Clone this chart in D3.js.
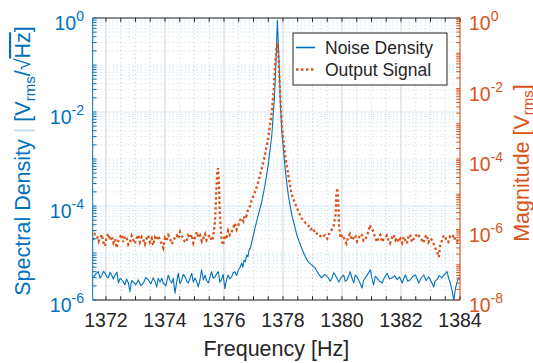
<!DOCTYPE html>
<html><head><meta charset="utf-8">
<script src="https://cdn.jsdelivr.net/npm/d3@7"></script>
<style>
body{margin:0;background:#fff}
svg{display:block}
text{font-family:"Liberation Sans",Arial,Helvetica,sans-serif}
</style>
</head><body>
<svg id="chart" width="533" height="363"></svg>
<script>
// ---------- data: [frequency Hz, value] ----------
const noiseDensity = [
[1371.57,2.95e-6],[1371.65,3.6e-6],[1371.74,4.0e-6],[1371.80,2.9e-6],[1371.86,3.4e-6],[1371.92,4.1e-6],
[1371.97,3.7e-6],[1372.03,3.1e-6],[1372.08,2.95e-6],[1372.14,3.9e-6],[1372.19,3.4e-6],[1372.25,2.8e-6],
[1372.31,3.4e-6],[1372.37,3.9e-6],[1372.42,2.3e-6],[1372.48,2.9e-6],[1372.53,2.7e-6],[1372.59,2.4e-6],
[1372.64,2.1e-6],[1372.70,2.8e-6],[1372.76,2.3e-6],[1372.81,1.5e-6],[1372.87,2.6e-6],[1372.93,2.4e-6],
[1373.01,2.1e-6],[1373.10,2.7e-6],[1373.18,2.0e-6],[1373.27,2.3e-6],[1373.35,3.0e-6],[1373.43,2.7e-6],
[1373.52,2.2e-6],[1373.60,2.95e-6],[1373.66,2.5e-6],[1373.72,1.9e-6],[1373.77,2.9e-6],[1373.83,2.4e-6],
[1373.89,2.9e-6],[1373.94,2.3e-6],[1374.03,2.0e-6],[1374.11,3.4e-6],[1374.17,2.6e-6],[1374.23,2.3e-6],
[1374.28,2.9e-6],[1374.34,1.4e-6],[1374.40,2.5e-6],[1374.45,3.7e-6],[1374.51,2.2e-6],[1374.57,2.7e-6],
[1374.62,3.5e-6],[1374.68,3.1e-6],[1374.74,2.5e-6],[1374.79,2.3e-6],[1374.85,2.9e-6],[1374.91,3.7e-6],
[1374.96,2.4e-6],[1375.02,2.95e-6],[1375.08,2.4e-6],[1375.13,1.9e-6],[1375.19,2.8e-6],[1375.24,4.4e-6],
[1375.30,2.7e-6],[1375.36,3.4e-6],[1375.41,2.6e-6],[1375.47,2.3e-6],[1375.52,3.0e-6],[1375.58,4.0e-6],
[1375.64,2.9e-6],[1375.70,3.1e-6],[1375.75,3.6e-6],[1375.81,4.0e-6],[1375.86,2.4e-6],[1375.92,2.7e-6],
[1375.97,3.5e-6],[1376.03,1.75e-6],[1376.08,2.6e-6],[1376.14,3.4e-6],[1376.20,2.8e-6],[1376.26,3.1e-6],
[1376.31,3.8e-6],[1376.37,4.0e-6],[1376.43,3.3e-6],[1376.49,4.4e-6],[1376.54,4.9e-6],[1376.60,6.1e-6],
[1376.64,5.0e-6],[1376.68,7.1e-6],[1376.72,6.5e-6],[1376.77,9.1e-6],[1376.81,8.3e-6],[1376.85,1.15e-5],
[1376.90,1.3e-5],[1376.94,1.7e-5],[1377.05,3.4e-5],[1377.16,6.4e-5],[1377.28,1.22e-4],[1377.39,2.8e-4],
[1377.50,7.5e-4],[1377.62,3.2e-3],[1377.71,0.02],[1377.76,0.1],[1377.81,0.9],[1377.87,0.1],
[1377.91,0.016],[1377.96,3.7e-3],[1378.07,6.5e-4],[1378.18,1.7e-4],[1378.30,6.4e-5],[1378.47,2.4e-5],
[1378.63,1.28e-5],[1378.75,8.5e-6],[1378.86,6.4e-6],[1378.97,5.6e-6],[1379.09,4.8e-6],[1379.20,3.6e-6],
[1379.31,2.95e-6],[1379.42,3.5e-6],[1379.54,2.95e-6],[1379.60,2.5e-6],[1379.66,2.95e-6],[1379.72,3.8e-6],
[1379.77,3.4e-6],[1379.83,2.9e-6],[1379.89,2.4e-6],[1379.97,3.0e-6],[1380.06,3.4e-6],[1380.11,2.5e-6],
[1380.17,2.7e-6],[1380.23,3.3e-6],[1380.28,4.0e-6],[1380.34,2.9e-6],[1380.40,2.3e-6],[1380.45,3.4e-6],
[1380.51,3.1e-6],[1380.60,2.4e-6],[1380.68,1.8e-6],[1380.73,2.6e-6],[1380.79,2.95e-6],[1380.87,3.5e-6],
[1380.96,4.4e-6],[1381.01,3.0e-6],[1381.07,2.1e-6],[1381.13,3.2e-6],[1381.19,2.95e-6],[1381.27,2.5e-6],
[1381.36,2.3e-6],[1381.44,3.0e-6],[1381.53,3.7e-6],[1381.61,2.8e-6],[1381.70,2.95e-6],[1381.78,3.3e-6],
[1381.87,2.7e-6],[1381.95,3.1e-6],[1382.04,2.3e-6],[1382.10,2.9e-6],[1382.15,3.4e-6],[1382.23,2.5e-6],
[1382.32,2.7e-6],[1382.40,3.2e-6],[1382.49,3.4e-6],[1382.55,2.8e-6],[1382.60,2.3e-6],[1382.68,2.9e-6],
[1382.77,3.4e-6],[1382.85,2.6e-6],[1382.94,3.1e-6],[1383.02,2.5e-6],[1383.11,1.9e-6],[1383.16,2.6e-6],
[1383.22,2.7e-6],[1383.30,3.3e-6],[1383.39,2.95e-6],[1383.47,3.5e-6],[1383.56,4.0e-6],[1383.61,3.0e-6],
[1383.67,2.3e-6],[1383.73,1.6e-6],[1383.79,1.0e-6],[1383.85,1.8e-6],[1383.90,2.4e-6],[1383.95,3.0e-6],
[1384.00,2.7e-6]];

const outputSignal = [
[1371.56,5.0e-7],[1371.62,7.5e-7],[1371.69,6.9e-7],[1371.75,4.6e-7],[1371.80,5.7e-7],[1371.86,7.2e-7],
[1371.91,4.4e-7],[1371.97,3.4e-7],[1372.02,6.1e-7],[1372.08,7.6e-7],[1372.14,5.0e-7],[1372.20,6.5e-7],
[1372.25,4.2e-7],[1372.31,5.4e-7],[1372.36,3.0e-7],[1372.42,4.8e-7],[1372.48,6.1e-7],[1372.53,7.3e-7],
[1372.59,4.4e-7],[1372.64,6.4e-7],[1372.70,5.7e-7],[1372.76,3.7e-7],[1372.81,4.2e-7],[1372.87,6.6e-7],
[1372.93,5.0e-7],[1372.98,4.0e-7],[1373.04,5.7e-7],[1373.10,7.0e-7],[1373.15,4.4e-7],[1373.21,6.2e-7],
[1373.27,5.0e-7],[1373.32,3.8e-7],[1373.38,5.7e-7],[1373.43,6.8e-7],[1373.49,4.4e-7],[1373.55,5.6e-7],
[1373.60,3.6e-7],[1373.66,6.0e-7],[1373.72,5.0e-7],[1373.77,6.7e-7],[1373.83,5.0e-7],[1373.88,4.1e-7],
[1373.94,3.0e-7],[1374.00,5.8e-7],[1374.06,5.0e-7],[1374.11,7.0e-7],[1374.17,5.7e-7],[1374.22,3.9e-7],
[1374.28,4.4e-7],[1374.34,6.2e-7],[1374.40,6.9e-7],[1374.45,5.5e-7],[1374.51,8.5e-7],[1374.56,6.6e-7],
[1374.62,5.7e-7],[1374.68,4.3e-7],[1374.74,5.0e-7],[1374.79,6.8e-7],[1374.85,5.7e-7],[1374.90,7.2e-7],
[1374.96,4.2e-7],[1375.02,6.0e-7],[1375.08,8.5e-7],[1375.13,6.0e-7],[1375.19,6.9e-7],[1375.25,4.6e-7],
[1375.30,5.7e-7],[1375.36,7.4e-7],[1375.41,5.0e-7],[1375.47,6.2e-7],[1375.53,6.9e-7],[1375.58,4.8e-7],
[1375.63,5.7e-7],[1375.70,1.9e-6],[1375.74,1.3e-5],[1375.77,4.3e-5],[1375.80,5.5e-5],[1375.83,1.8e-5],
[1375.86,2.6e-6],[1375.92,5.0e-7],[1375.97,3.6e-7],[1376.03,6.9e-7],[1376.08,5.3e-7],[1376.14,9.3e-7],
[1376.20,7.0e-7],[1376.26,8.5e-7],[1376.31,1.1e-6],[1376.37,1.5e-6],[1376.43,1.0e-6],[1376.49,1.35e-6],
[1376.54,1.8e-6],[1376.60,2.1e-6],[1376.66,1.7e-6],[1376.71,2.6e-6],[1376.76,2.4e-6],[1376.81,3.5e-6],
[1376.88,4.6e-6],[1376.94,6.9e-6],[1377.05,1.15e-5],[1377.16,2.2e-5],[1377.22,3.5e-5],[1377.31,6.8e-5],
[1377.39,1.3e-4],[1377.50,4.0e-4],[1377.62,2.1e-3],[1377.69,0.0103],[1377.74,0.056],[1377.80,0.195],
[1377.84,0.11],[1377.90,7.9e-3],[1377.96,9.2e-4],[1378.07,1.3e-4],[1378.18,3.5e-5],[1378.30,9.5e-6],
[1378.47,4.1e-6],[1378.63,2.1e-6],[1378.74,1.6e-6],[1378.85,1.35e-6],[1378.93,1.0e-6],[1379.02,1.1e-6],
[1379.10,7.4e-7],[1379.19,7.9e-7],[1379.30,6.0e-7],[1379.42,6.9e-7],[1379.50,5.5e-7],[1379.59,8.5e-7],
[1379.70,1.1e-6],[1379.78,2.6e-6],[1379.81,9.5e-6],[1379.84,1.5e-5],[1379.87,6.9e-6],[1379.90,1.35e-6],
[1379.95,5.7e-7],[1380.02,7.0e-7],[1380.10,5.0e-7],[1380.15,4.0e-7],[1380.21,6.1e-7],[1380.27,7.5e-7],
[1380.34,5.0e-7],[1380.40,5.9e-7],[1380.45,6.9e-7],[1380.51,4.6e-7],[1380.57,5.7e-7],[1380.62,7.4e-7],
[1380.68,6.9e-7],[1380.73,4.8e-7],[1380.78,5.0e-7],[1380.84,6.6e-7],[1380.89,8.5e-7],[1380.95,1.35e-6],
[1380.98,1.17e-6],[1381.02,1.1e-6],[1381.08,7.5e-7],[1381.13,5.7e-7],[1381.19,4.4e-7],[1381.24,6.1e-7],
[1381.30,7.0e-7],[1381.36,4.4e-7],[1381.41,5.2e-7],[1381.46,5.7e-7],[1381.52,6.8e-7],[1381.57,5.0e-7],
[1381.63,4.1e-7],[1381.70,6.1e-7],[1381.75,7.1e-7],[1381.81,5.0e-7],[1381.86,5.9e-7],[1381.92,4.4e-7],
[1381.98,5.5e-7],[1382.04,4.2e-7],[1382.09,6.2e-7],[1382.14,5.0e-7],[1382.20,4.0e-7],[1382.25,6.1e-7],
[1382.31,7.3e-7],[1382.37,4.4e-7],[1382.43,5.4e-7],[1382.49,5.7e-7],[1382.54,7.6e-7],[1382.60,6.9e-7],
[1382.65,5.5e-7],[1382.71,5.0e-7],[1382.76,4.2e-7],[1382.82,6.1e-7],[1382.87,7.0e-7],[1382.93,4.4e-7],
[1382.99,5.6e-7],[1383.05,5.0e-7],[1383.10,4.0e-7],[1383.16,3.0e-7],[1383.22,2.4e-7],[1383.28,1.66e-7],
[1383.33,3.5e-7],[1383.39,5.0e-7],[1383.45,6.8e-7],[1383.50,6.1e-7],[1383.55,4.8e-7],[1383.60,4.4e-7],
[1383.66,6.3e-7],[1383.73,5.7e-7],[1383.78,7.0e-7],[1383.84,5.0e-7],[1383.90,4.5e-7],[1383.96,5.7e-7]];

const xTickValues = [1372,1374,1376,1378,1380,1382,1384];
const leftTickExponents = [0,-2,-4,-6];
const rightTickExponents = [0,-2,-4,-6,-8];
const seriesNames = ["Noise Density","Output Signal"];

// ---------- layout ----------
const BLUE = "#0072BD", ORANGE = "#D95319", DARK = "#262626";
const L = 92.7, R = 460, T = 18, B = 300;
const svg = d3.select("#chart");
const x = d3.scaleLinear().domain([1371.55, 1384]).range([L, R]);
const yL = d3.scaleLog().domain([1e-6, 1]).range([B, T]);
const yR = d3.scaleLog().domain([1e-8, 1]).range([B, T]);

svg.append("defs").append("clipPath").attr("id","clip")
  .append("rect").attr("x",L).attr("y",T).attr("width",R-L).attr("height",B-T);

// ---------- grid ----------
const grid = svg.append("g");
const minorX = d3.range(1371.5, 1384.01, 0.5).filter(v => v >= 1371.55 && !xTickValues.includes(v));
grid.selectAll(".gxm").data(minorX).join("line")
  .attr("x1", d => x(d)).attr("x2", d => x(d)).attr("y1", T).attr("y2", B)
  .attr("stroke", "#bdbdbd").attr("stroke-width", 0.8).attr("stroke-dasharray", "1,3");
const minorY = [];
for (let k = -6; k < 0; k++) for (let m = 1; m <= 9; m++) {
  const v = m * Math.pow(10, k);
  if (m === 1 && leftTickExponents.includes(k)) continue;
  minorY.push(v);
}
grid.selectAll(".gym").data(minorY).join("line")
  .attr("x1", L).attr("x2", R).attr("y1", d => yL(d)).attr("y2", d => yL(d))
  .attr("stroke", "#a9d2ec").attr("stroke-width", 0.8).attr("stroke-dasharray", "1,3");
grid.selectAll(".gx").data(xTickValues).join("line")
  .attr("x1", d => x(d)).attr("x2", d => x(d)).attr("y1", T).attr("y2", B)
  .attr("stroke", "#dcdcdc").attr("stroke-width", 1.2);
grid.selectAll(".gy").data(leftTickExponents).join("line")
  .attr("x1", L).attr("x2", R).attr("y1", d => yL(Math.pow(10,d))).attr("y2", d => yL(Math.pow(10,d)))
  .attr("stroke", "#d6e8f4").attr("stroke-width", 1.2);

// ---------- series ----------
const plot = svg.append("g").attr("clip-path","url(#clip)");
plot.append("path").datum(noiseDensity)
  .attr("d", d3.line().x(d => x(d[0])).y(d => yL(d[1])))
  .attr("fill","none").attr("stroke",BLUE).attr("stroke-width",1.1).attr("stroke-linejoin","round");
plot.append("path").datum(outputSignal)
  .attr("d", d3.line().x(d => x(d[0])).y(d => yR(d[1])))
  .attr("fill","none").attr("stroke",ORANGE).attr("stroke-width",2.3).attr("stroke-dasharray","2.4,2.6");

// ---------- axes ----------
const ax = svg.append("g");
const TL = 3.8;
ax.append("line").attr("x1",L).attr("x2",R).attr("y1",T).attr("y2",T).attr("stroke",DARK).attr("stroke-width",1);
ax.append("line").attr("x1",L).attr("x2",R).attr("y1",B).attr("y2",B).attr("stroke",DARK).attr("stroke-width",1);
ax.append("line").attr("x1",L).attr("x2",L).attr("y1",T).attr("y2",B).attr("stroke",BLUE).attr("stroke-width",1);
ax.append("line").attr("x1",R).attr("x2",R).attr("y1",T).attr("y2",B).attr("stroke",ORANGE).attr("stroke-width",1);
const allX = xTickValues.concat(minorX);
[B, T].forEach((yy, i) => {
  ax.selectAll(null).data(allX).join("line")
    .attr("x1", d => x(d)).attr("x2", d => x(d))
    .attr("y1", yy).attr("y2", i === 0 ? yy - TL : yy + TL)
    .attr("stroke", DARK).attr("stroke-width", 1);
});
const leftAll = leftTickExponents.map(e => Math.pow(10,e)).concat(minorY);
ax.selectAll(null).data(leftAll).join("line")
  .attr("x1", L).attr("x2", L + TL).attr("y1", d => yL(d)).attr("y2", d => yL(d))
  .attr("stroke", BLUE).attr("stroke-width", 1);
const rightAll = [];
for (let k = -8; k <= 0; k++) for (let m = 1; m <= 9; m++) { const v = m*Math.pow(10,k); if (v <= 1) rightAll.push(v); }
ax.selectAll(null).data(rightAll).join("line")
  .attr("x1", R).attr("x2", R - TL).attr("y1", d => yR(d)).attr("y2", d => yR(d))
  .attr("stroke", ORANGE).attr("stroke-width", 1);

// tick labels
const FS = 19.5, SUP = 14;
svg.append("g").selectAll("text").data(xTickValues).join("text")
  .attr("x", d => x(d)).attr("y", B + 27).attr("text-anchor","middle")
  .attr("font-size", FS).attr("fill", DARK).text(d => d);

function powLabel(g, e, xx, yy, anchor, color) {
  const t = g.append("text").attr("x", xx).attr("y", yy).attr("text-anchor", anchor)
    .attr("font-size", FS).attr("fill", color);
  t.append("tspan").text("10");
  t.append("tspan").attr("font-size", SUP).attr("dy", -9).text(e === 0 ? "0" : "-" + Math.abs(e));
}
const lg = svg.append("g");
leftTickExponents.forEach(e => powLabel(lg, e, 84, yL(Math.pow(10,e)) + 12, "end", BLUE));
const rg = svg.append("g");
rightTickExponents.forEach(e => powLabel(rg, e, 469, yR(Math.pow(10,e)) + 12, "start", ORANGE));

// axis titles
const LFS = 21.5;
svg.append("text").attr("x", (L+R)/2).attr("y", 356).attr("text-anchor","middle")
  .attr("font-size", LFS).attr("fill", DARK).text("Frequency [Hz]");

const lt = svg.append("text").attr("transform", "translate(30,161) rotate(-90)")
  .attr("text-anchor","middle").attr("font-size", LFS).attr("fill", BLUE);
lt.append("tspan").text("Spectral Density ");
lt.append("tspan").attr("fill-opacity",0.25).text("|");
lt.append("tspan").text(" [V");
lt.append("tspan").attr("font-size",15).attr("dy",5).text("rms");
lt.append("tspan").attr("dy",-5).text("/\u221A");
lt.append("tspan").style("text-decoration","overline").text("Hz");
lt.append("tspan").text("]");

const rt = svg.append("text").attr("transform", "translate(528.5,163) rotate(-90)")
  .attr("text-anchor","middle").attr("font-size", LFS).attr("fill", ORANGE);
rt.append("tspan").text("Magnitude [V");
rt.append("tspan").attr("font-size",15).attr("dy",4).text("rms");
rt.append("tspan").attr("dy",-4).text("]");

// ---------- legend ----------
const leg = svg.append("g");
leg.append("rect").attr("x",293).attr("y",33).attr("width",154).attr("height",52)
  .attr("fill","#fff").attr("stroke",DARK).attr("stroke-width",1);
const legStyles = [
  {color: BLUE, width: 1.6, dash: null},
  {color: ORANGE, width: 2.3, dash: "2.4,2.6"}
];
seriesNames.forEach((name, i) => {
  const cy = 47.5 + i * 22;
  leg.append("line").attr("x1",296).attr("x2",315).attr("y1",cy).attr("y2",cy)
    .attr("stroke", legStyles[i].color).attr("stroke-width", legStyles[i].width)
    .attr("stroke-dasharray", legStyles[i].dash);
  leg.append("text").attr("x",325).attr("y",cy + 6.5).attr("font-size",17.5).attr("fill",DARK).text(name);
});
</script>
</body></html>
